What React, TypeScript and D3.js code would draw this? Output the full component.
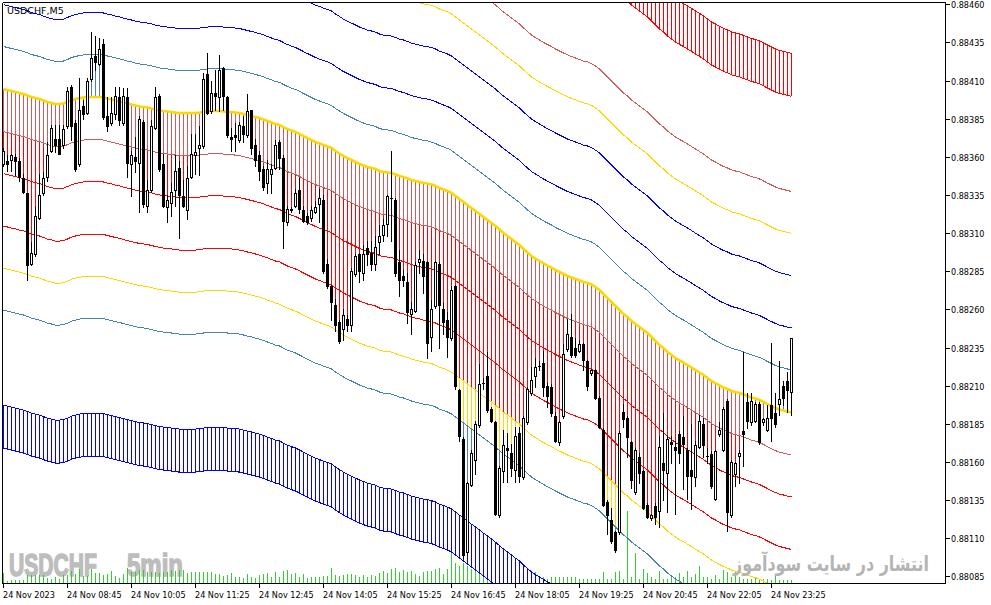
import { useLayoutEffect, useRef, useState } from "react";
import * as d3 from "d3";

// ---- chart data (USDCHF M5, 24 Nov 2023 07:25 .. 23:50) ----

// centre moving average (thick gold line)
const maCentre = [
  0.884044, 0.884038, 0.884031, 0.884025, 0.884018, 0.884012, 0.884002, 0.883992, 0.883985, 0.883979,
  0.883969, 0.883959, 0.883953, 0.883946, 0.883946, 0.883949, 0.883959, 0.883972, 0.883979, 0.883985,
  0.883989, 0.883992, 0.883992, 0.883992, 0.883992, 0.883989, 0.883982, 0.883976, 0.883969, 0.883963,
  0.883956, 0.883949, 0.883943, 0.883936, 0.88393, 0.883927, 0.883923, 0.883917, 0.88391, 0.883904,
  0.8839, 0.883897, 0.883894, 0.88389, 0.883887, 0.883887, 0.883887, 0.883887, 0.883887, 0.88389,
  0.883894, 0.883897, 0.8839, 0.8839, 0.8839, 0.883897, 0.883894, 0.883894, 0.88389, 0.883887,
  0.883881, 0.883874, 0.883868, 0.883861, 0.883854, 0.883845, 0.883835, 0.883825, 0.883815, 0.883809,
  0.883795, 0.883782, 0.883772, 0.883763, 0.88375, 0.883736, 0.883723, 0.88371, 0.883697, 0.883687,
  0.883677, 0.883668, 0.883658, 0.883638, 0.883622, 0.883605, 0.883592, 0.883579, 0.883566, 0.883553,
  0.883543, 0.883533, 0.883527, 0.88352, 0.883507, 0.8835, 0.883497, 0.883494, 0.883484, 0.883474,
  0.883468, 0.883458, 0.883448, 0.883441, 0.883435, 0.883428, 0.883425, 0.883418, 0.883409, 0.883395,
  0.883386, 0.883376, 0.883363, 0.883343, 0.883323, 0.883304, 0.883284, 0.883264, 0.883245, 0.883225,
  0.883205, 0.883186, 0.883166, 0.883146, 0.883123, 0.8831, 0.883081, 0.883061, 0.883041, 0.883022,
  0.882996, 0.882973, 0.88295, 0.882933, 0.882917, 0.882901, 0.882887, 0.882874, 0.882858, 0.882845,
  0.882832, 0.882819, 0.882809, 0.882799, 0.882789, 0.882779, 0.882773, 0.882763, 0.882746, 0.882727,
  0.882701, 0.882674, 0.882648, 0.882622, 0.882596, 0.882569, 0.88255, 0.882524, 0.882504, 0.882484,
  0.882465, 0.882445, 0.882419, 0.882392, 0.882366, 0.882347, 0.88232, 0.882301, 0.882281, 0.882265,
  0.882251, 0.882235, 0.882219, 0.882202, 0.882186, 0.88217, 0.88215, 0.88213, 0.882117, 0.882101,
  0.882088, 0.882078, 0.882065, 0.882058, 0.882052, 0.882042, 0.882032, 0.882022, 0.882015, 0.882006,
  0.881993, 0.881979, 0.881966, 0.881953, 0.881943, 0.881937, 0.88193, 0.881924,
];

const opens = [
  0.88355, 0.88357, 0.88358, 0.8836, 0.88357, 0.88346, 0.88336, 0.8829, 0.88296, 0.8832,
  0.88336, 0.88347, 0.88364, 0.88372, 0.88372, 0.88368, 0.8838, 0.88406, 0.88382, 0.88355,
  0.88393, 0.88389, 0.88411, 0.88426, 0.88421, 0.88434, 0.88387, 0.88382, 0.88388, 0.88399,
  0.88382, 0.88399, 0.88355, 0.8836, 0.88356, 0.88383, 0.88328, 0.88338, 0.88379, 0.884,
  0.88355, 0.88327, 0.8833, 0.88338, 0.88353, 0.88334, 0.88325, 0.88347, 0.88361, 0.88366,
  0.88367, 0.88414, 0.8839, 0.88402, 0.88399, 0.88418, 0.88399, 0.88373, 0.88374, 0.88371,
  0.8838, 0.88374, 0.88391, 0.88368, 0.88361, 0.88352, 0.88343, 0.88349, 0.88353, 0.8837,
  0.88359, 0.88317, 0.88325, 0.88328, 0.88338, 0.88325, 0.88321, 0.8832, 0.88324, 0.88329,
  0.88332, 0.8829, 0.88275, 0.88263, 0.88252, 0.88247, 0.88254, 0.8825, 0.88283, 0.88296,
  0.88284, 0.883, 0.88297, 0.8829, 0.88304, 0.88309, 0.88316, 0.88333, 0.88332, 0.88291,
  0.88282, 0.88278, 0.88257, 0.88259, 0.88291, 0.88292, 0.88291, 0.88242, 0.88262, 0.8829,
  0.8826, 0.88253, 0.88241, 0.88275, 0.88207, 0.88175, 0.88101, 0.88145, 0.88161, 0.88184,
  0.88212, 0.88216, 0.88195, 0.88186, 0.88125, 0.88154, 0.88169, 0.88166, 0.88155, 0.88179,
  0.8815, 0.88186, 0.88205, 0.88216, 0.88223, 0.88225, 0.8821, 0.88209, 0.8819, 0.88173,
  0.8819, 0.88234, 0.88242, 0.88235, 0.88233, 0.88237, 0.88226, 0.88218, 0.8822, 0.88202,
  0.88181, 0.88134, 0.88122, 0.88114, 0.88114, 0.88193, 0.88189, 0.88173, 0.8814, 0.88163,
  0.88154, 0.88132, 0.88123, 0.88131, 0.88128, 0.88159, 0.88153, 0.88173, 0.8817, 0.88178,
  0.88176, 0.88168, 0.88155, 0.8815, 0.8817, 0.88185, 0.88164, 0.88165, 0.88136, 0.88178,
  0.88168, 0.882, 0.88125, 0.88152, 0.88164, 0.8818, 0.88199, 0.88186, 0.88187, 0.88198,
  0.88186, 0.88181, 0.88197, 0.88192, 0.88198, 0.8821, 0.88213, 0.88206,
];

const highs = [
  0.88366, 0.88361, 0.88362, 0.88362, 0.88359, 0.88349, 0.88336, 0.88304, 0.88327, 0.88349,
  0.8835, 0.8837, 0.88381, 0.88381, 0.88381, 0.88381, 0.88406, 0.88407, 0.88384, 0.88412,
  0.88397, 0.88412, 0.88442, 0.88439, 0.88438, 0.88437, 0.88399, 0.88399, 0.88406, 0.88406,
  0.88405, 0.88405, 0.88364, 0.88373, 0.88387, 0.88384, 0.88345, 0.88384, 0.88406, 0.88401,
  0.88362, 0.88335, 0.88343, 0.88361, 0.88357, 0.88345, 0.88354, 0.88375, 0.88375, 0.8838,
  0.88415, 0.88428, 0.8841, 0.88417, 0.88427, 0.88419, 0.884, 0.88379, 0.88382, 0.88383,
  0.88387, 0.88401, 0.88391, 0.88372, 0.88364, 0.88354, 0.88358, 0.88355, 0.88371, 0.88371,
  0.88361, 0.88328, 0.88327, 0.88339, 0.88346, 0.88328, 0.88323, 0.88328, 0.88331, 0.88339,
  0.88335, 0.88293, 0.88276, 0.88267, 0.88253, 0.8826, 0.88256, 0.88287, 0.88296, 0.88297,
  0.88302, 0.88305, 0.88305, 0.88308, 0.88315, 0.88319, 0.88335, 0.88364, 0.88333, 0.88299,
  0.88286, 0.88284, 0.88265, 0.88291, 0.88299, 0.88296, 0.88292, 0.88266, 0.88292, 0.88291,
  0.88264, 0.88258, 0.88275, 0.88276, 0.88208, 0.88176, 0.88147, 0.88168, 0.88187, 0.88224,
  0.88215, 0.88232, 0.88196, 0.88187, 0.88157, 0.88181, 0.88179, 0.88172, 0.88183, 0.88183,
  0.8819, 0.88209, 0.88222, 0.88228, 0.88226, 0.88233, 0.88212, 0.88211, 0.88193, 0.88187,
  0.88237, 0.88254, 0.88257, 0.88241, 0.8824, 0.88238, 0.88227, 0.88221, 0.88221, 0.88203,
  0.88182, 0.88135, 0.8813, 0.88115, 0.8818, 0.88198, 0.8819, 0.88174, 0.88169, 0.88166,
  0.88155, 0.88133, 0.88126, 0.88133, 0.88177, 0.88192, 0.88177, 0.88177, 0.88174, 0.8818,
  0.8819, 0.88169, 0.88185, 0.88174, 0.88191, 0.88189, 0.88169, 0.88167, 0.88168, 0.88186,
  0.88196, 0.88201, 0.88161, 0.8816, 0.88168, 0.88232, 0.88205, 0.88205, 0.88199, 0.88199,
  0.88189, 0.88197, 0.88238, 0.88205, 0.88226, 0.88213, 0.88219, 0.88241,
];

const lows = [
  0.88354, 0.88351, 0.88351, 0.88348, 0.88344, 0.88336, 0.88279, 0.88289, 0.88295, 0.88319,
  0.88335, 0.88344, 0.88363, 0.88363, 0.88362, 0.88366, 0.88379, 0.88371, 0.88351, 0.88354,
  0.88385, 0.88388, 0.8841, 0.88417, 0.8842, 0.88385, 0.88377, 0.88381, 0.88385, 0.88381,
  0.88381, 0.88347, 0.88334, 0.8835, 0.88324, 0.88327, 0.88324, 0.88337, 0.88378, 0.88351,
  0.88327, 0.88317, 0.88321, 0.88328, 0.88307, 0.88327, 0.88319, 0.88346, 0.88349, 0.88348,
  0.88366, 0.88388, 0.88389, 0.88391, 0.8839, 0.88391, 0.88373, 0.88364, 0.88364, 0.8837,
  0.8837, 0.88373, 0.88362, 0.88354, 0.88345, 0.88338, 0.88336, 0.88336, 0.88352, 0.88352,
  0.883, 0.88315, 0.88324, 0.88327, 0.88323, 0.88317, 0.88316, 0.88318, 0.88323, 0.88317,
  0.88284, 0.88274, 0.88253, 0.88246, 0.88238, 0.8824, 0.88246, 0.88246, 0.88282, 0.88278,
  0.88279, 0.88289, 0.88286, 0.88286, 0.88296, 0.88305, 0.88308, 0.88305, 0.88282, 0.88269,
  0.88275, 0.88251, 0.88244, 0.88258, 0.88284, 0.88271, 0.88228, 0.88233, 0.88261, 0.88235,
  0.88244, 0.88229, 0.8824, 0.88208, 0.88174, 0.88097, 0.88099, 0.88144, 0.88152, 0.88183,
  0.88208, 0.88193, 0.88186, 0.88125, 0.88124, 0.88147, 0.88147, 0.88151, 0.88147, 0.88147,
  0.88149, 0.88185, 0.88204, 0.88209, 0.8822, 0.88203, 0.88196, 0.8819, 0.88173, 0.88171,
  0.88189, 0.88233, 0.88229, 0.88229, 0.88232, 0.8822, 0.88207, 0.88217, 0.88201, 0.88182,
  0.88131, 0.88113, 0.88107, 0.88101, 0.88113, 0.88183, 0.88163, 0.88143, 0.88139, 0.88146,
  0.88129, 0.88123, 0.88122, 0.88119, 0.88117, 0.88135, 0.88127, 0.88159, 0.88126, 0.88159,
  0.88142, 0.88136, 0.88129, 0.88144, 0.88169, 0.88163, 0.88159, 0.88143, 0.88135, 0.88177,
  0.88167, 0.88115, 0.88124, 0.88144, 0.88146, 0.88157, 0.88182, 0.88184, 0.88186, 0.88172,
  0.88184, 0.8818, 0.88174, 0.88183, 0.88191, 0.88197, 0.88193, 0.88191,
];

const closes = [
  0.88364, 0.88355, 0.88361, 0.88357, 0.88347, 0.88337, 0.88289, 0.88297, 0.88321, 0.88335,
  0.88346, 0.88361, 0.88379, 0.88368, 0.88362, 0.88378, 0.88403, 0.8838, 0.88352, 0.88391,
  0.88388, 0.8841, 0.88425, 0.88422, 0.88431, 0.88386, 0.8838, 0.88389, 0.884, 0.88384,
  0.884, 0.88356, 0.88361, 0.88357, 0.88385, 0.88329, 0.88338, 0.8838, 0.88399, 0.88352,
  0.88328, 0.88332, 0.88337, 0.88351, 0.88335, 0.88328, 0.88346, 0.88362, 0.88363, 0.88368,
  0.88411, 0.88389, 0.88402, 0.884, 0.88417, 0.884, 0.88374, 0.88372, 0.88373, 0.88381,
  0.88375, 0.8839, 0.88366, 0.88358, 0.88351, 0.8834, 0.88352, 0.88352, 0.88368, 0.88359,
  0.88318, 0.88326, 0.88326, 0.88336, 0.88326, 0.88318, 0.88317, 0.88325, 0.88327, 0.88333,
  0.88285, 0.88275, 0.88265, 0.8825, 0.88239, 0.88256, 0.8825, 0.88285, 0.88295, 0.88285,
  0.88296, 0.88296, 0.8829, 0.88301, 0.88308, 0.88315, 0.88334, 0.88333, 0.88284, 0.88279,
  0.88279, 0.88258, 0.8826, 0.88289, 0.88293, 0.88282, 0.88238, 0.8826, 0.88291, 0.88263,
  0.88252, 0.88242, 0.88273, 0.8821, 0.88177, 0.88099, 0.88146, 0.88166, 0.88185, 0.88211,
  0.88212, 0.88194, 0.88187, 0.88126, 0.88156, 0.88171, 0.88168, 0.88156, 0.88177, 0.88151,
  0.88189, 0.88208, 0.88214, 0.88222, 0.88223, 0.88209, 0.88203, 0.88192, 0.88174, 0.88186,
  0.88231, 0.88244, 0.8823, 0.8823, 0.88237, 0.88227, 0.8821, 0.8822, 0.88202, 0.88183,
  0.88132, 0.88125, 0.88108, 0.88102, 0.88179, 0.88188, 0.88176, 0.88148, 0.88168, 0.88153,
  0.8813, 0.88124, 0.88125, 0.88124, 0.8817, 0.88155, 0.88175, 0.88172, 0.88168, 0.88166,
  0.88172, 0.88151, 0.88151, 0.88171, 0.88187, 0.88171, 0.88164, 0.88144, 0.88167, 0.88181,
  0.88195, 0.88127, 0.8816, 0.88159, 0.88166, 0.88178, 0.88187, 0.882, 0.88198, 0.88173,
  0.88188, 0.88189, 0.88189, 0.88185, 0.88201, 0.88202, 0.88207, 0.88241,
];

// tick volumes
const volumes = [
  50, 10, 15, 15, 15, 15, 40, 40, 40, 40, 40, 25, 20, 30, 20, 40, 40, 60, 45, 70,
  35, 35, 70, 50, 50, 40, 45, 60, 35, 25, 45, 75, 55, 55, 65, 65, 55, 55, 55, 50,
  55, 55, 65, 60, 65, 65, 50, 55, 55, 55, 55, 55, 55, 45, 45, 35, 40, 50, 30, 30,
  25, 45, 30, 25, 40, 45, 50, 30, 55, 30, 60, 65, 45, 50, 30, 45, 25, 30, 30, 30,
  35, 35, 75, 40, 35, 40, 45, 45, 40, 30, 40, 30, 40, 35, 50, 60, 50, 70, 75, 55,
  65, 55, 60, 45, 35, 55, 60, 60, 70, 75, 45, 70, 170, 100, 85, 100, 85, 70, 60, 60,
  50, 65, 30, 30, 50, 70, 50, 70, 40, 30, 30, 30, 30, 55, 30, 30, 20, 30, 30, 30,
  30, 30, 30, 30, 20, 20, 20, 20, 20, 20, 55, 20, 20, 55, 60, 20, 360, 30, 150, 20,
  70, 50, 30, 20, 60, 20, 20, 30, 30, 50, 30, 60, 30, 45, 85, 30, 30, 20, 40, 20,
  65, 55, 30, 55, 30, 20, 20, 20, 30, 20, 20, 20, 15, 40, 15, 15, 15, 15,
];

// band distances from the centre line, innermost first
const bandOffsets = [0.000279, 0.000554, 0.000898, 0.001174, 0.001449, 0.002072, 0.002354];
const upperLineColors = ["#4682B4", "#0000FF", "#0000FF", "#FFD700", "#CD5C5C", "#FF0000", "#FF0000"];
const lowerLineColors = ["#CD5C5C", "#FF0000", "#FF0000", "#FFD700", "#4682B4", "#0000FF", "#0000FF"];
// colour of the close-to-centre histogram in each zone (centre..band1, band1..band2, ...)
const upperZoneColors = ["#4682B4", "#0000FF", "#0000FF", "#0000FF", "#FFD700", "#CD5C5C", "#FF0000"];
const lowerZoneColors = ["#CD5C5C", "#FF0000", "#FF0000", "#FF0000", "#FFD700", "#4682B4", "#0000FF"];

const priceTicks = [
  0.88085, 0.8811, 0.88135, 0.8816, 0.88185, 0.8821, 0.88235, 0.8826,
  0.88285, 0.8831, 0.88335, 0.8836, 0.88385, 0.8841, 0.88435, 0.8846,
];
const timeTickBars = [0, 16, 32, 48, 64, 80, 96, 112, 128, 144, 160, 176, 192];
const timeTickLabels = [
  "24 Nov 2023", "24 Nov 08:45", "24 Nov 10:05", "24 Nov 11:25", "24 Nov 12:45",
  "24 Nov 14:05", "24 Nov 15:25", "24 Nov 16:45", "24 Nov 18:05", "24 Nov 19:25",
  "24 Nov 20:45", "24 Nov 22:05", "24 Nov 23:25",
];

const axisFont = "'DejaVu Sans Condensed', 'DejaVu Sans', sans-serif";
const markFont = "'Liberation Sans Narrow', 'Liberation Sans', Arial, sans-serif";

// text squeezed horizontally to a given width (watermarks)
function FitText({ x, y, width, children, ...rest }: any) {
  const ref = useRef<SVGTextElement | null>(null);
  const [sx, setSx] = useState(1);
  useLayoutEffect(() => {
    if (!ref.current) return;
    const len = ref.current.getComputedTextLength();
    if (len > 0) setSx(width / len);
  }, [width, children]);
  return (
    <g transform={`translate(${x},${y}) scale(${sx},1)`}>
      <text ref={ref} x={0} y={0} {...rest}>
        {children}
      </text>
    </g>
  );
}

export default function App() {
  const width = 991;
  const height = 605;
  const left = 2.5;
  const top = 2.5;
  const right = 945.5;
  const bottom = 583.5;

  const x = d3.scaleLinear().domain([0, 235]).range([3.5, 943.5]);
  const y = d3.scaleLinear().domain([0.88085, 0.8846]).range([576.3, 4.3]);
  const py = (v: number) => Math.round(y(v));
  const vol = d3.scaleLinear().domain([0, 360]).range([0, 72]);

  const line = d3
    .line<number>()
    .x((_, i) => x(i))
    .y((v) => y(v));

  const upperBands = bandOffsets.map((off) => maCentre.map((m) => m + off));
  const lowerBands = bandOffsets.map((off) => maCentre.map((m) => m - off));

  // histogram from the centre line to the close, split into coloured zones
  const zoneSegs: { i: number; y1: number; y2: number; color: string }[] = [];
  closes.forEach((c, i) => {
    const m = maCentre[i];
    const below = c < m;
    const levels = [m, ...bandOffsets.map((off) => (below ? m - off : m + off))];
    const colors = below ? lowerZoneColors : upperZoneColors;
    for (let k = 0; k < colors.length; k++) {
      const from = levels[k];
      const to = k + 1 < levels.length ? levels[k + 1] : below ? -Infinity : Infinity;
      if (below ? c >= from : c <= from) break;
      const end = below ? Math.max(to, c) : Math.min(to, c);
      zoneSegs.push({ i, y1: py(from), y2: py(end), color: colors[k] });
    }
  });

  return (
    <div style={{ position: "absolute", left: 0, top: 0, width, height, background: "#fff" }}>
      <svg width={width} height={height} style={{ display: "block" }}>
        <defs>
          <clipPath id="plot">
            <rect x={3} y={3} width={942} height={580} />
          </clipPath>
        </defs>
        <rect width={width} height={height} fill="#fff" />

        <g clipPath="url(#plot)">
          {/* watermark */}
          <g fontFamily={markFont} fontWeight="bold" fontSize={32} fill="#bdbdbd" stroke="#bdbdbd" strokeWidth={1.6}>
            <FitText x={9} y={576} width={88}>
              USDCHF
            </FitText>
            <FitText x={127} y={576} width={56}>
              5min
            </FitText>
          </g>

          {/* volumes */}
          <g stroke="#32CD32" strokeWidth={1} shapeRendering="crispEdges">
            {volumes.map((v, i) => (
              <line key={i} x1={x(i)} x2={x(i)} y1={583} y2={583 - Math.round(vol(v))} />
            ))}
          </g>

          {/* outer bands hatching */}
          <g strokeWidth={1} shapeRendering="crispEdges">
            {maCentre.map((_, i) => (
              <line
                key={"u" + i}
                x1={x(i)}
                x2={x(i)}
                y1={py(upperBands[6][i])}
                y2={py(upperBands[5][i])}
                stroke="#FF0000"
              />
            ))}
            {maCentre.map((_, i) => (
              <line
                key={"l" + i}
                x1={x(i)}
                x2={x(i)}
                y1={py(lowerBands[5][i])}
                y2={py(lowerBands[6][i])}
                stroke="#0000FF"
              />
            ))}
          </g>

          {/* close-to-centre histogram */}
          <g strokeWidth={1} shapeRendering="crispEdges">
            {zoneSegs.map((s, k) => (
              <line key={k} x1={x(s.i)} x2={x(s.i)} y1={s.y1} y2={s.y2} stroke={s.color} />
            ))}
          </g>

          {/* band lines */}
          <g fill="none" strokeWidth={1} shapeRendering="crispEdges">
            {upperBands.map((b, k) => (
              <path key={"ub" + k} d={line(b) ?? ""} stroke={upperLineColors[k]} />
            ))}
            {lowerBands.map((b, k) => (
              <path key={"lb" + k} d={line(b) ?? ""} stroke={lowerLineColors[k]} />
            ))}
          </g>

          {/* centre line */}
          <path d={line(maCentre) ?? ""} fill="none" stroke="#FFD700" strokeWidth={2.6} />

          {/* candles */}
          <g shapeRendering="crispEdges">
            {closes.map((c, i) => {
              const o = opens[i];
              const cx = x(i);
              const yt = py(Math.max(o, c));
              const yb = py(Math.min(o, c));
              return (
                <g key={i}>
                  <line x1={cx} x2={cx} y1={py(highs[i])} y2={py(lows[i]) + 1} stroke="#000" />
                  {yb - yt < 1 ? (
                    <line x1={cx - 1.5} x2={cx + 1.5} y1={yt + 0.5} y2={yt + 0.5} stroke="#000" />
                  ) : (
                    <rect
                      x={cx - 1}
                      y={yt + 0.5}
                      width={2}
                      height={yb - yt}
                      fill={c >= o ? "#fff" : "#000"}
                      stroke="#000"
                    />
                  )}
                </g>
              );
            })}
          </g>

          <FitText
            x={733}
            y={571}
            width={196}
            fontFamily="'DejaVu Sans', sans-serif"
            fontWeight="bold"
            fontSize={21}
            fill="#b4b4b4"
          >
            انتشار در سایت سودآموز
          </FitText>
        </g>

        {/* frame */}
        <g stroke="#000" strokeWidth={1} shapeRendering="crispEdges" fill="none">
          <line x1={left} x2={right} y1={top} y2={top} />
          <line x1={left} x2={left} y1={top} y2={bottom} />
          <line x1={right} x2={right} y1={top} y2={bottom} />
          <line x1={left} x2={right} y1={bottom} y2={bottom} />
        </g>

        {/* price axis */}
        <g fontFamily={axisFont} fontSize={9} fill="#000">
          {priceTicks.map((p) => (
            <g key={p}>
              <line
                x1={right}
                x2={right + 4}
                y1={py(p) + 0.5}
                y2={py(p) + 0.5}
                stroke="#000"
                shapeRendering="crispEdges"
              />
              <text x={951} y={py(p) + 4}>
                {p.toFixed(5)}
              </text>
            </g>
          ))}
        </g>

        {/* time axis */}
        <g fontFamily={axisFont} fontSize={9} fill="#000">
          {timeTickBars.map((b, k) => (
            <g key={b}>
              <line
                x1={x(b)}
                x2={x(b)}
                y1={bottom}
                y2={bottom + 4}
                stroke="#000"
                shapeRendering="crispEdges"
              />
              <text x={x(b) - 0.5} y={597.5}>
                {timeTickLabels[k]}
              </text>
            </g>
          ))}
        </g>

        <text x={7} y={13.5} fontFamily="'DejaVu Sans', sans-serif" fontSize={9.5} fill="#000">
          USDCHF,M5
        </text>
      </svg>
    </div>
  );
}
